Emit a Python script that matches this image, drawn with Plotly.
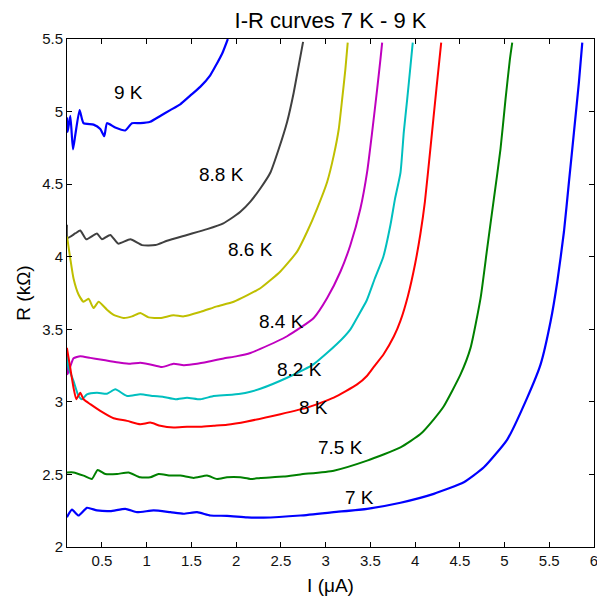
import plotly.graph_objects as go

# Current (uA) and resistance (kOhm) sweeps at each temperature
I_9K = [0.109, 0.116, 0.146, 0.176, 0.202, 0.25, 0.294, 0.406, 0.481, 0.526, 0.556, 0.648, 0.76,
        0.835, 0.928, 1.039, 1.151, 1.263, 1.375, 1.486, 1.598, 1.71, 1.784, 1.844, 1.907]
R_9K = [4.96, 4.86, 4.97, 4.74, 4.84, 5.01, 4.92, 4.91, 4.88, 4.83, 4.92, 4.89, 4.87,
        4.92, 4.92, 4.93, 4.97, 5.01, 5.05, 5.11, 5.17, 5.25, 5.33, 5.40, 5.50]

I_88K = [0.108, 0.115, 0.2, 0.257, 0.324, 0.444, 0.5, 0.593, 0.682, 0.817, 0.947, 1.096, 1.227,
         1.45, 1.675, 1.857, 1.935, 2.047, 2.159, 2.27, 2.383, 2.475, 2.57, 2.643, 2.70, 2.748]
R_88K = [4.22, 4.13, 4.16, 4.18, 4.12, 4.16, 4.12, 4.15, 4.09, 4.12, 4.08, 4.08, 4.11,
         4.15, 4.19, 4.23, 4.26, 4.31, 4.38, 4.47, 4.58, 4.74, 4.93, 5.13, 5.32, 5.48]

I_86K = [0.109, 0.115, 0.145, 0.182, 0.238, 0.294, 0.35, 0.406, 0.462, 0.556, 0.63, 0.742, 0.836,
         0.928, 1.021, 1.152, 1.30, 1.413, 1.60, 1.786, 1.972, 2.27, 2.494, 2.681, 2.793, 2.905,
         3.017, 3.091, 3.147, 3.185, 3.221, 3.247]
R_86K = [4.14, 4.115, 3.99, 3.85, 3.74, 3.69, 3.71, 3.646, 3.69, 3.635, 3.60, 3.578, 3.589,
         3.612, 3.582, 3.578, 3.596, 3.589, 3.62, 3.658, 3.69, 3.783, 3.898, 4.035, 4.172, 4.332,
         4.515, 4.698, 4.88, 5.086, 5.292, 5.475]

I_84K = [0.108, 0.115, 0.182, 0.257, 0.369, 0.481, 0.593, 0.705, 0.817, 0.928, 1.04, 1.171, 1.301,
         1.413, 1.563, 1.711, 1.86, 2.01, 2.159, 2.27, 2.569, 2.867, 3.017, 3.166, 3.277, 3.389,
         3.464, 3.52, 3.576, 3.613, 3.632]
R_84K = [3.35, 3.19, 3.30, 3.315, 3.303, 3.292, 3.28, 3.269, 3.262, 3.269, 3.258, 3.24, 3.262,
         3.253, 3.262, 3.28, 3.299, 3.315, 3.337, 3.365, 3.452, 3.578, 3.715, 3.898, 4.081, 4.332,
         4.584, 4.858, 5.155, 5.361, 5.475]

I_82K = [0.108, 0.126, 0.182, 0.238, 0.276, 0.332, 0.444, 0.556, 0.649, 0.78, 0.928, 1.077, 1.189,
         1.32, 1.451, 1.60, 1.748, 1.898, 2.047, 2.159, 2.27, 2.569, 2.867, 3.129, 3.277, 3.352,
         3.46, 3.55, 3.645, 3.725, 3.776, 3.837, 3.874, 3.912, 3.949, 3.974]
R_82K = [3.315, 3.235, 3.143, 3.04, 3.018, 3.052, 3.063, 3.056, 3.086, 3.04, 3.052, 3.04, 3.034,
         3.018, 3.029, 3.018, 3.04, 3.047, 3.056, 3.07, 3.09, 3.166, 3.26, 3.40, 3.50, 3.58,
         3.70, 3.85, 4.00, 4.22, 4.40, 4.58, 4.86, 5.086, 5.316, 5.475]

I_8K = [0.108, 0.145, 0.182, 0.213, 0.257, 0.294, 0.369, 0.481, 0.63, 0.78, 0.928, 1.04, 1.152,
        1.301, 1.451, 1.60, 1.748, 1.898, 2.122, 2.494, 2.793, 3.091, 3.352, 3.464, 3.55, 3.65,
        3.762, 3.837, 3.92, 4.0, 4.06, 4.11, 4.172, 4.239, 4.292]
R_8K = [3.372, 3.235, 3.097, 3.018, 3.063, 3.018, 2.984, 2.938, 2.887, 2.869, 2.846, 2.857, 2.835,
        2.823, 2.828, 2.828, 2.835, 2.842, 2.865, 2.915, 2.96, 3.029, 3.12, 3.18, 3.25, 3.33,
        3.45, 3.56, 3.73, 3.95, 4.16, 4.38, 4.75, 5.16, 5.475]

I_75K = [0.108, 0.182, 0.294, 0.388, 0.451, 0.537, 0.668, 0.797, 0.928, 1.04, 1.133, 1.264, 1.376,
         1.525, 1.675, 1.786, 1.898, 2.047, 2.159, 2.27, 2.531, 2.718, 3.091, 3.464, 3.837, 4.06,
         4.209, 4.321, 4.508, 4.62, 4.732, 4.806, 4.881, 4.955, 5.011, 5.06, 5.086]
R_75K = [2.514, 2.514, 2.492, 2.469, 2.531, 2.503, 2.503, 2.514, 2.48, 2.48, 2.503, 2.492, 2.492,
         2.476, 2.492, 2.469, 2.48, 2.48, 2.469, 2.476, 2.485, 2.50, 2.526, 2.595, 2.686, 2.778,
         2.88, 2.97, 3.189, 3.372, 3.715, 4.058, 4.40, 4.743, 5.086, 5.361, 5.475]

I_7K = [0.108, 0.164, 0.238, 0.332, 0.444, 0.593, 0.761, 0.891, 1.077, 1.264, 1.413, 1.563, 1.711,
        1.898, 2.122, 2.308, 2.718, 3.091, 3.464, 3.837, 4.209, 4.545, 4.769, 5.03, 5.254, 5.403,
        5.515, 5.59, 5.664, 5.72, 5.776, 5.831, 5.869]
R_7K = [2.205, 2.257, 2.217, 2.27, 2.252, 2.247, 2.263, 2.24, 2.252, 2.24, 2.229, 2.24, 2.217,
        2.215, 2.204, 2.202, 2.217, 2.24, 2.263, 2.305, 2.366, 2.446, 2.549, 2.74, 3.029, 3.258,
        3.555, 3.829, 4.172, 4.515, 4.858, 5.20, 5.475]

temperatures = ["9 K", "8.8 K", "8.6 K", "8.4 K", "8.2 K", "8 K", "7.5 K", "7 K"]
currents = [I_9K, I_88K, I_86K, I_84K, I_82K, I_8K, I_75K, I_7K]
resistances = [R_9K, R_88K, R_86K, R_84K, R_82K, R_8K, R_75K, R_7K]
colors = ["#0000ff", "#404040", "#bfbf00", "#bf00bf", "#00bfbf", "#ff0000", "#008000", "#0000ff"]
widths = [2.2, 2, 2, 2, 2, 2, 2, 2.2]

# Curve label positions (I, R)
label_I = [0.794, 1.834, 2.164, 2.506, 2.707, 2.867, 3.162, 3.384]
label_R = [5.132, 4.569, 4.047, 3.555, 3.224, 2.96, 2.686, 2.343]

FONT = "Liberation Sans, Arial, Helvetica, sans-serif"

fig = go.Figure()
for name, x, y, c, w in zip(temperatures, currents, resistances, colors, widths):
    fig.add_trace(go.Scatter(x=x, y=y, mode="lines", name=name,
                             line=dict(color=c, width=w, shape="spline", smoothing=0.5),
                             showlegend=False))

for name, lx, ly in zip(temperatures, label_I, label_R):
    fig.add_annotation(x=lx, y=ly, text=name, showarrow=False,
                       font=dict(family=FONT, size=19, color="black"))

axis_common = dict(
    showline=True, linecolor="black", linewidth=1, mirror="ticks",
    ticks="inside", ticklen=5, tickcolor="black", tickwidth=1,
    showgrid=False, zeroline=False, ticklabeloverflow="allow",
    tickfont=dict(family=FONT, size=15, color="#111"),
)

fig.update_layout(
    width=597, height=599,
    margin=dict(l=67, r=3, t=39, b=52, autoexpand=False),
    plot_bgcolor="white", paper_bgcolor="white",
    title=dict(text="I-R curves 7 K - 9 K", x=0.5, xref="paper", xanchor="center",
               y=1 - 20 / 599, yref="container", yanchor="middle",
               font=dict(family=FONT, size=22, color="black")),
    xaxis=dict(range=[0.109, 6], tick0=0, dtick=0.5,
               title=dict(text="I (μA)", font=dict(family=FONT, size=19, color="black"), standoff=10),
               **axis_common),
    yaxis=dict(range=[2, 5.5], tick0=0, dtick=0.5,
               title=dict(text="R (kΩ)", font=dict(family=FONT, size=19, color="black"), standoff=6),
               **axis_common),
)

fig.write_html("out.html")
